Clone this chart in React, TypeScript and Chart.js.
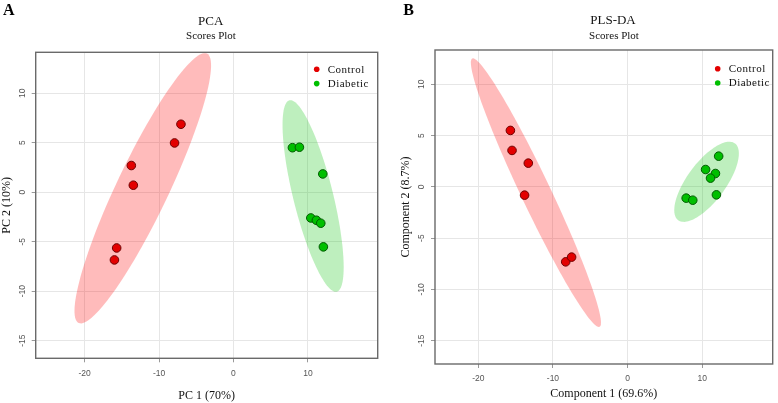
import React, { useEffect, useRef } from "react";
import { Chart, registerables } from "chart.js";

Chart.register(...registerables);

const groupNames = ["Control", "Diabetic"];

// PCA scores
const pcaControlX = [-7.06, -7.92, -13.73, -13.46, -15.7, -16.0];
const pcaControlY = [6.87, 4.98, 2.7, 0.71, -5.63, -6.84];
const pcaDiabeticX = [7.92, 8.86, 12.0, 10.39, 11.14, 11.73, 12.08];
const pcaDiabeticY = [4.5, 4.55, 1.85, -2.6, -2.83, -3.13, -5.52];

// PLS-DA scores
const plsControlX = [-15.7, -15.48, -13.3, -13.8, -8.29, -7.5];
const plsControlY = [5.5, 3.55, 2.31, -0.81, -7.31, -6.85];
const plsDiabeticX = [12.2, 10.45, 11.77, 11.11, 7.85, 8.73, 11.9];
const plsDiabeticY = [2.99, 1.69, 1.3, 0.85, -1.1, -1.3, -0.78];

// confidence ellipses (data units): [centerX, centerY, axis1X, axis1Y, axis2X, axis2Y]
const pcaControlEllipse = [-12.19, 0.4, 8.62, 13.61, 3.15, -1.13];
const pcaDiabeticEllipse = [10.7, -0.38, -3.18, 9.67, 2.6, 0.485];
const plsControlEllipse = [-12.28, -0.57, -8.53, 13.08, 1.79, 0.63];
const plsDiabeticEllipse = [10.58, 0.49, 3.81, 3.74, 2.05, -1.13];

// axes
const xTickStep = 10;
const yTickStep = 5;
const pcaXRange = [-26.58, 19.38];
const pcaYRange = [-16.78, 14.14];
const plsXRange = [-25.8, 19.44];
const plsYRange = [-17.27, 13.34];

const SERIF = "'Liberation Serif', 'Times New Roman', serif";
const SANS = "'Liberation Sans', Arial, sans-serif";

const RED_FILL = "#e30000";
const RED_EDGE = "#6e0000";
const GREEN_FILL = "#00bf00";
const GREEN_EDGE = "#005a00";
const RED_ELLIPSE = "rgba(255, 20, 20, 0.29)";
const GREEN_ELLIPSE = "rgba(30, 200, 30, 0.29)";

type PanelCfg = {
  left: number;
  letter: string;
  letterX: number;
  title: string;
  titleX: number;
  subtitleX: number;
  titleY: number;
  xTitle: string;
  yTitle: string;
  controlX: number[];
  controlY: number[];
  diabeticX: number[];
  diabeticY: number[];
  controlEllipse: number[];
  diabeticEllipse: number[];
  xRange: number[];
  yRange: number[];
  padTop: number;
  padRight: number;
  yWidth: number;
  xHeight: number;
  yTitlePad: number;
  xTitlePad: number;
  legendX: number;
  legendY: number;
};

const panels: PanelCfg[] = [
  {
    left: 0,
    letter: "A",
    letterX: 3,
    title: "PCA",
    titleX: 210.7,
    subtitleX: 211,
    titleY: 21.7,
    xTitle: "PC 1 (70%)",
    yTitle: "PC 2 (10%)",
    controlX: pcaControlX,
    controlY: pcaControlY,
    diabeticX: pcaDiabeticX,
    diabeticY: pcaDiabeticY,
    controlEllipse: pcaControlEllipse,
    diabeticEllipse: pcaDiabeticEllipse,
    xRange: pcaXRange,
    yRange: pcaYRange,
    padTop: 52.3,
    padRight: 11.3,
    yWidth: 35.7,
    xHeight: 44.7,
    yTitlePad: 0,
    xTitlePad: 0,
    legendX: 316.7,
    legendY: 69.3,
  },
  {
    left: 389,
    letter: "B",
    letterX: 14.3,
    title: "PLS-DA",
    titleX: 224,
    subtitleX: 225,
    titleY: 20.7,
    xTitle: "Component 1 (69.6%)",
    yTitle: "Component 2 (8.7%)",
    controlX: plsControlX,
    controlY: plsControlY,
    diabeticX: plsDiabeticX,
    diabeticY: plsDiabeticY,
    controlEllipse: plsControlEllipse,
    diabeticEllipse: plsDiabeticEllipse,
    xRange: plsXRange,
    yRange: plsYRange,
    padTop: 50,
    padRight: 1,
    yWidth: 46,
    xHeight: 39,
    yTitlePad: 9.3,
    xTitlePad: 1.5,
    legendX: 328.7,
    legendY: 68.7,
  },
];

function toPoints(xs: number[], ys: number[]) {
  return xs.map((x, i) => ({ x, y: ys[i] }));
}

function makePlugin(cfg: PanelCfg) {
  const drawEllipse = (chart: any, e: number[], color: string) => {
    const { ctx, scales } = chart;
    const xs = scales.x;
    const ys = scales.y;
    const [cx, cy, ax, ay, bx, by] = e;
    ctx.beginPath();
    const n = 120;
    for (let i = 0; i <= n; i++) {
      const t = (i / n) * Math.PI * 2;
      const c = Math.cos(t);
      const s = Math.sin(t);
      const px = xs.getPixelForValue(cx + c * ax + s * bx);
      const py = ys.getPixelForValue(cy + c * ay + s * by);
      if (i === 0) ctx.moveTo(px, py);
      else ctx.lineTo(px, py);
    }
    ctx.closePath();
    ctx.fillStyle = color;
    ctx.fill();
  };
  return {
    id: "scoresDecor" + cfg.letter,
    beforeDatasetsDraw(chart: any) {
      const { ctx, chartArea } = chart;
      ctx.save();
      ctx.beginPath();
      ctx.rect(chartArea.left, chartArea.top, chartArea.right - chartArea.left, chartArea.bottom - chartArea.top);
      ctx.clip();
      drawEllipse(chart, cfg.controlEllipse, RED_ELLIPSE);
      drawEllipse(chart, cfg.diabeticEllipse, GREEN_ELLIPSE);
      ctx.restore();
    },
    afterDraw(chart: any) {
      const { ctx, chartArea } = chart;
      ctx.save();
      // frame
      ctx.strokeStyle = "#6a6a6a";
      ctx.lineWidth = 1.4;
      ctx.strokeRect(chartArea.left, chartArea.top, chartArea.right - chartArea.left, chartArea.bottom - chartArea.top);
      // panel letter
      ctx.fillStyle = "#000";
      ctx.textBaseline = "alphabetic";
      ctx.textAlign = "left";
      ctx.font = `bold 16px ${SERIF}`;
      ctx.fillText(cfg.letter, cfg.letterX, 14.5);
      // titles
      ctx.textAlign = "center";
      ctx.textBaseline = "middle";
      ctx.fillStyle = "#111";
      ctx.font = `13px ${SERIF}`;
      ctx.fillText(cfg.title, cfg.titleX, cfg.titleY);
      ctx.font = `11px ${SERIF}`;
      ctx.fillText("Scores Plot", cfg.subtitleX, 36);
      // legend
      const colors = [RED_FILL, GREEN_FILL];
      ctx.textAlign = "left";
      ctx.font = `11px ${SERIF}`;
      try {
        (ctx as any).letterSpacing = "0.5px";
      } catch (e) {}
      groupNames.forEach((name, i) => {
        const y = cfg.legendY + i * 14.3;
        ctx.beginPath();
        ctx.arc(cfg.legendX, y, 2.8, 0, Math.PI * 2);
        ctx.fillStyle = colors[i];
        ctx.fill();
        ctx.fillStyle = "#111";
        ctx.fillText(name, cfg.legendX + 11, y + 0.5);
      });
      ctx.restore();
    },
  };
}

function ScoresPanel({ cfg }: { cfg: PanelCfg }) {
  const ref = useRef<HTMLCanvasElement>(null);
  useEffect(() => {
    if (!ref.current) return;
    const chart = new Chart(ref.current, {
      type: "scatter",
      data: {
        datasets: [
          {
            label: groupNames[0],
            data: toPoints(cfg.controlX, cfg.controlY),
            backgroundColor: RED_FILL,
            borderColor: RED_EDGE,
            pointRadius: 4.3,
            pointBorderWidth: 1,
          },
          {
            label: groupNames[1],
            data: toPoints(cfg.diabeticX, cfg.diabeticY),
            backgroundColor: GREEN_FILL,
            borderColor: GREEN_EDGE,
            pointRadius: 4.3,
            pointBorderWidth: 1,
          },
        ],
      },
      options: {
        responsive: false,
        animation: false,
        devicePixelRatio: 1,
        layout: { padding: { top: cfg.padTop, right: cfg.padRight, left: 0, bottom: 0 } },
        plugins: { legend: { display: false }, tooltip: { enabled: false }, title: { display: false } },
        scales: {
          x: {
            type: "linear",
            min: cfg.xRange[0],
            max: cfg.xRange[1],
            afterFit: (s: any) => {
              s.height = cfg.xHeight;
            },
            ticks: {
              stepSize: xTickStep,
              includeBounds: false,
              maxRotation: 0,
              minRotation: 0,
              padding: 6,
              color: "#555",
              font: { family: SANS, size: 8.5 },
            },
            grid: { color: "#e6e6e6", tickLength: 4, tickColor: "#999" },
            border: { display: false },
            title: {
              display: true,
              text: cfg.xTitle,
              color: "#111",
              font: { family: SERIF, size: 12 },
              padding: { top: 0, bottom: cfg.xTitlePad },
            },
          },
          y: {
            type: "linear",
            min: cfg.yRange[0],
            max: cfg.yRange[1],
            afterFit: (s: any) => {
              s.width = cfg.yWidth;
            },
            ticks: {
              stepSize: yTickStep,
              includeBounds: false,
              minRotation: 90,
              maxRotation: 90,
              crossAlign: "center",
              padding: 2.8,
              color: "#555",
              font: { family: SANS, size: 8.5 },
            },
            grid: { color: "#e6e6e6", tickLength: 4, tickColor: "#999" },
            border: { display: false },
            title: {
              display: true,
              text: cfg.yTitle,
              color: "#111",
              font: { family: SERIF, size: 12 },
              padding: { top: cfg.yTitlePad, bottom: 0 },
            },
          },
        },
      } as any,
      plugins: [makePlugin(cfg)],
    });
    return () => chart.destroy();
  }, [cfg]);
  return (
    <div style={{ position: "absolute", left: cfg.left, top: 0, width: 389, height: 403 }}>
      <canvas ref={ref} width={389} height={403} style={{ display: "block" }} />
    </div>
  );
}

export default function App() {
  return (
    <div style={{ position: "fixed", left: 0, top: 0, width: 778, height: 403, background: "#fff" }}>
      {panels.map((p) => (
        <ScoresPanel key={p.letter} cfg={p} />
      ))}
    </div>
  );
}
